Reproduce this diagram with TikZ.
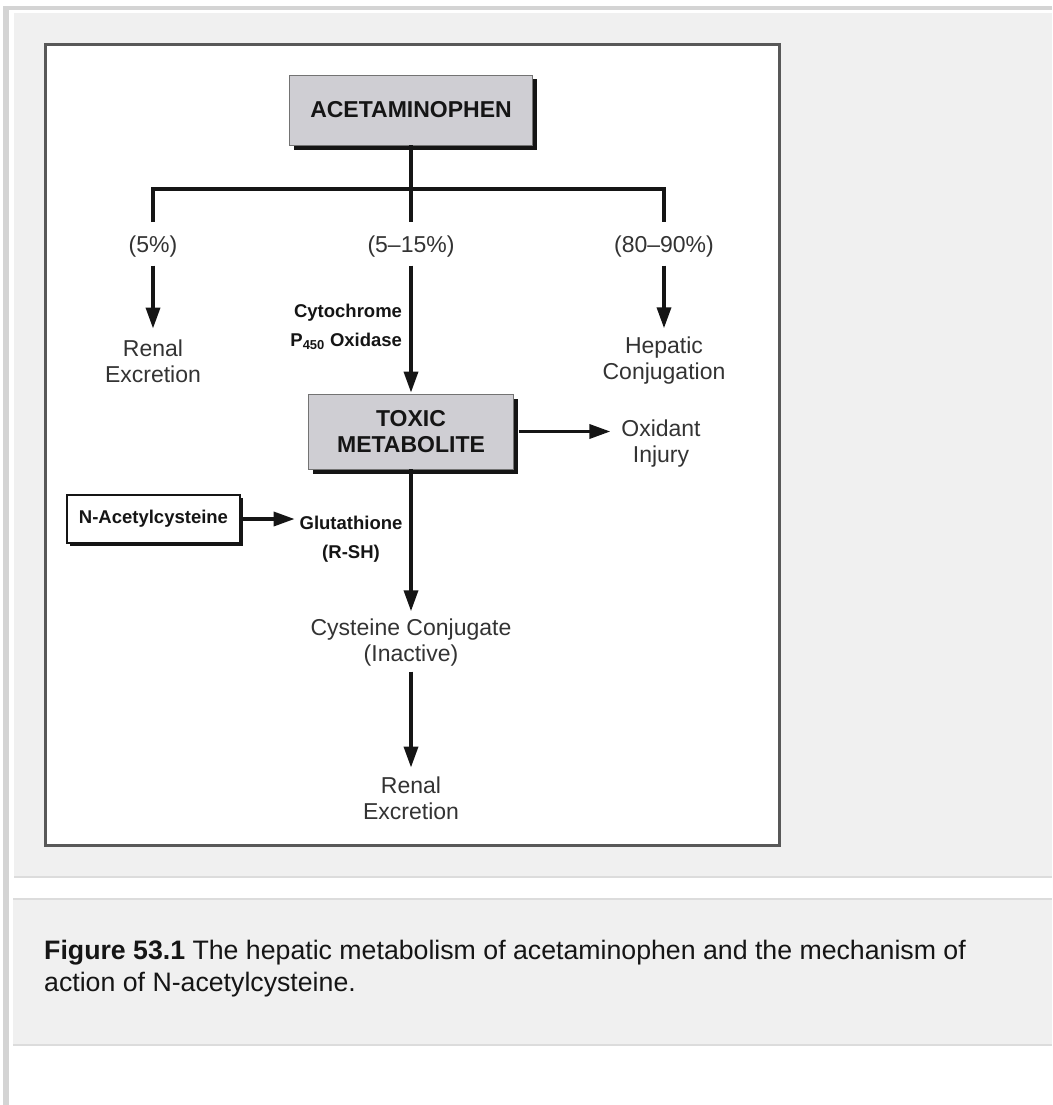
\documentclass[tikz,border=0pt]{standalone}
\usepackage{fontspec}
\setmainfont{Liberation Sans}
\usetikzlibrary{arrows.meta,shadows}

\definecolor{pagegray}{HTML}{D4D4D4}
\definecolor{panel}{HTML}{F0F0F0}
\definecolor{panelline}{HTML}{DCDCDC}
\definecolor{framegray}{HTML}{585858}
\definecolor{boxfill}{HTML}{CFCED3}
\definecolor{ink}{HTML}{151515}
\definecolor{txt}{HTML}{333333}

\tikzset{
  mainbox/.style={draw=black!55, line width=0.8pt, fill=boxfill, inner sep=0pt,
    drop shadow={shadow xshift=4.5pt, shadow yshift=-4.5pt, opacity=1, fill=ink},
    font=\fontsize{23}{26}\selectfont\bfseries, text=ink, align=center},
  drugbox/.style={draw=ink, line width=1.6pt, fill=white, inner sep=0pt,
    drop shadow={shadow xshift=2.5pt, shadow yshift=-2.5pt, opacity=1, fill=ink},
    font=\fontsize{18.5}{22}\selectfont\bfseries, text=ink},
  lbl/.style={inner sep=2pt, outer sep=0pt, align=center, text=txt,
    font=\fontsize{23}{26}\selectfont},
  blbl/.style={inner sep=2pt, outer sep=0pt, text=ink,
    font=\fontsize{18.5}{29}\selectfont\bfseries},
  link/.style={draw=ink, line width=3.5pt},
  arr/.style={link, -{Triangle[length=21pt,width=14pt]}},
}

\begin{document}
\begin{tikzpicture}[x=1pt, y=-1pt]
  \useasboundingbox (0,0) rectangle (1052,1105);
  \fill[white] (0,0) rectangle (1052,1105);

  % page chrome: side rule, top rule, diagram panel and caption panel
  \fill[pagegray] (3,6) rectangle (9,1105);
  \fill[pagegray] (3,6) rectangle (1052,10);
  \fill[panel] (13,13) rectangle (1052,877);
  \draw[panelline, line width=1.5pt] (13,877) -- (1052,877);
  \draw[white, line width=1pt] (13,1105) |- (1052,13);
  \fill[panel] (13,899) rectangle (1052,1045);
  \draw[panelline, line width=1.5pt] (13,899) -- (1052,899);
  \draw[panelline, line width=1.5pt] (13,1045) -- (1052,1045);

  % figure frame
  \draw[framegray, line width=3pt, fill=white] (45,45) rectangle (779,845);

  % main boxes
  \node[mainbox, minimum width=243pt, minimum height=70pt] (acet) at (411,110) {ACETAMINOPHEN};
  \node[mainbox, minimum width=205pt, minimum height=75pt] (toxic) at (411,431.5) {TOXIC\\METABOLITE};
  \node[drugbox, minimum width=173pt, minimum height=48pt] (nac) at (153.5,519) {N-Acetylcysteine};

  % three-way split below acetaminophen
  \coordinate (split) at (411,189);
  \coordinate (bl) at (153,189);
  \coordinate (br) at (664,189);
  \coordinate (dl) at (153,222);
  \coordinate (dc) at (411,222);
  \coordinate (dr) at (664,222);
  \draw[link] (acet.south) -- (split);
  \draw[link, line cap=butt, line join=miter] (dl) -- (bl) -- (br) -- (dr);
  \draw[link] (split) -- (dc);

  % pathway labels
  \node[lbl] (p5) at (153,247) {(5\%)};
  \node[lbl] (p515) at (411,247) {(5–15\%)};
  \node[lbl] (p8090) at (664,247) {(80–90\%)};
  \node[lbl] (ren1) at (153,361) {Renal\\Excretion};
  \node[lbl] (hep) at (664,361) {Hepatic\\Conjugation};
  \node[blbl, align=right, anchor=east] (cyp) at (404,327) {Cytochrome\\P\textsubscript{450} Oxidase};
  \node[lbl] (oxid) at (661,444) {Oxidant\\Injury};
  \node[blbl, align=center] (gsh) at (351,539) {Glutathione\\(R-SH)};
  \node[lbl] (cyst) at (411,643) {Cysteine Conjugate\\(Inactive)};
  \node[lbl] (ren2) at (411,798) {Renal\\Excretion};

  % arrows
  \draw[arr, shorten <=6pt, shorten >=9pt] (p5) -- (ren1);
  \draw[arr, shorten <=6pt, shorten >=7pt] (p8090) -- (hep);
  \draw[arr, shorten <=6pt, shorten >=1pt] (p515) -- (toxic);
  \draw[arr, shorten <=5pt, shorten >=9pt] (toxic.east) -- (toxic.east -| oxid.west);
  \draw[arr, shorten <=1pt, shorten >=3pt] (nac.east) -- (nac.east -| gsh.west);
  \draw[arr, shorten >=6pt] (toxic) -- (cyst);
  \draw[arr, shorten <=3pt, shorten >=7pt] (cyst) -- (ren2);

  % caption
  \node[anchor=north west, inner sep=0pt, align=left, text=ink,
        font=\fontsize{26.7}{32}\selectfont] (caption) at (44,940)
    {\textbf{Figure 53.1} The hepatic metabolism of acetaminophen and the mechanism of\\
     action of N-acetylcysteine.};
\end{tikzpicture}
\end{document}
